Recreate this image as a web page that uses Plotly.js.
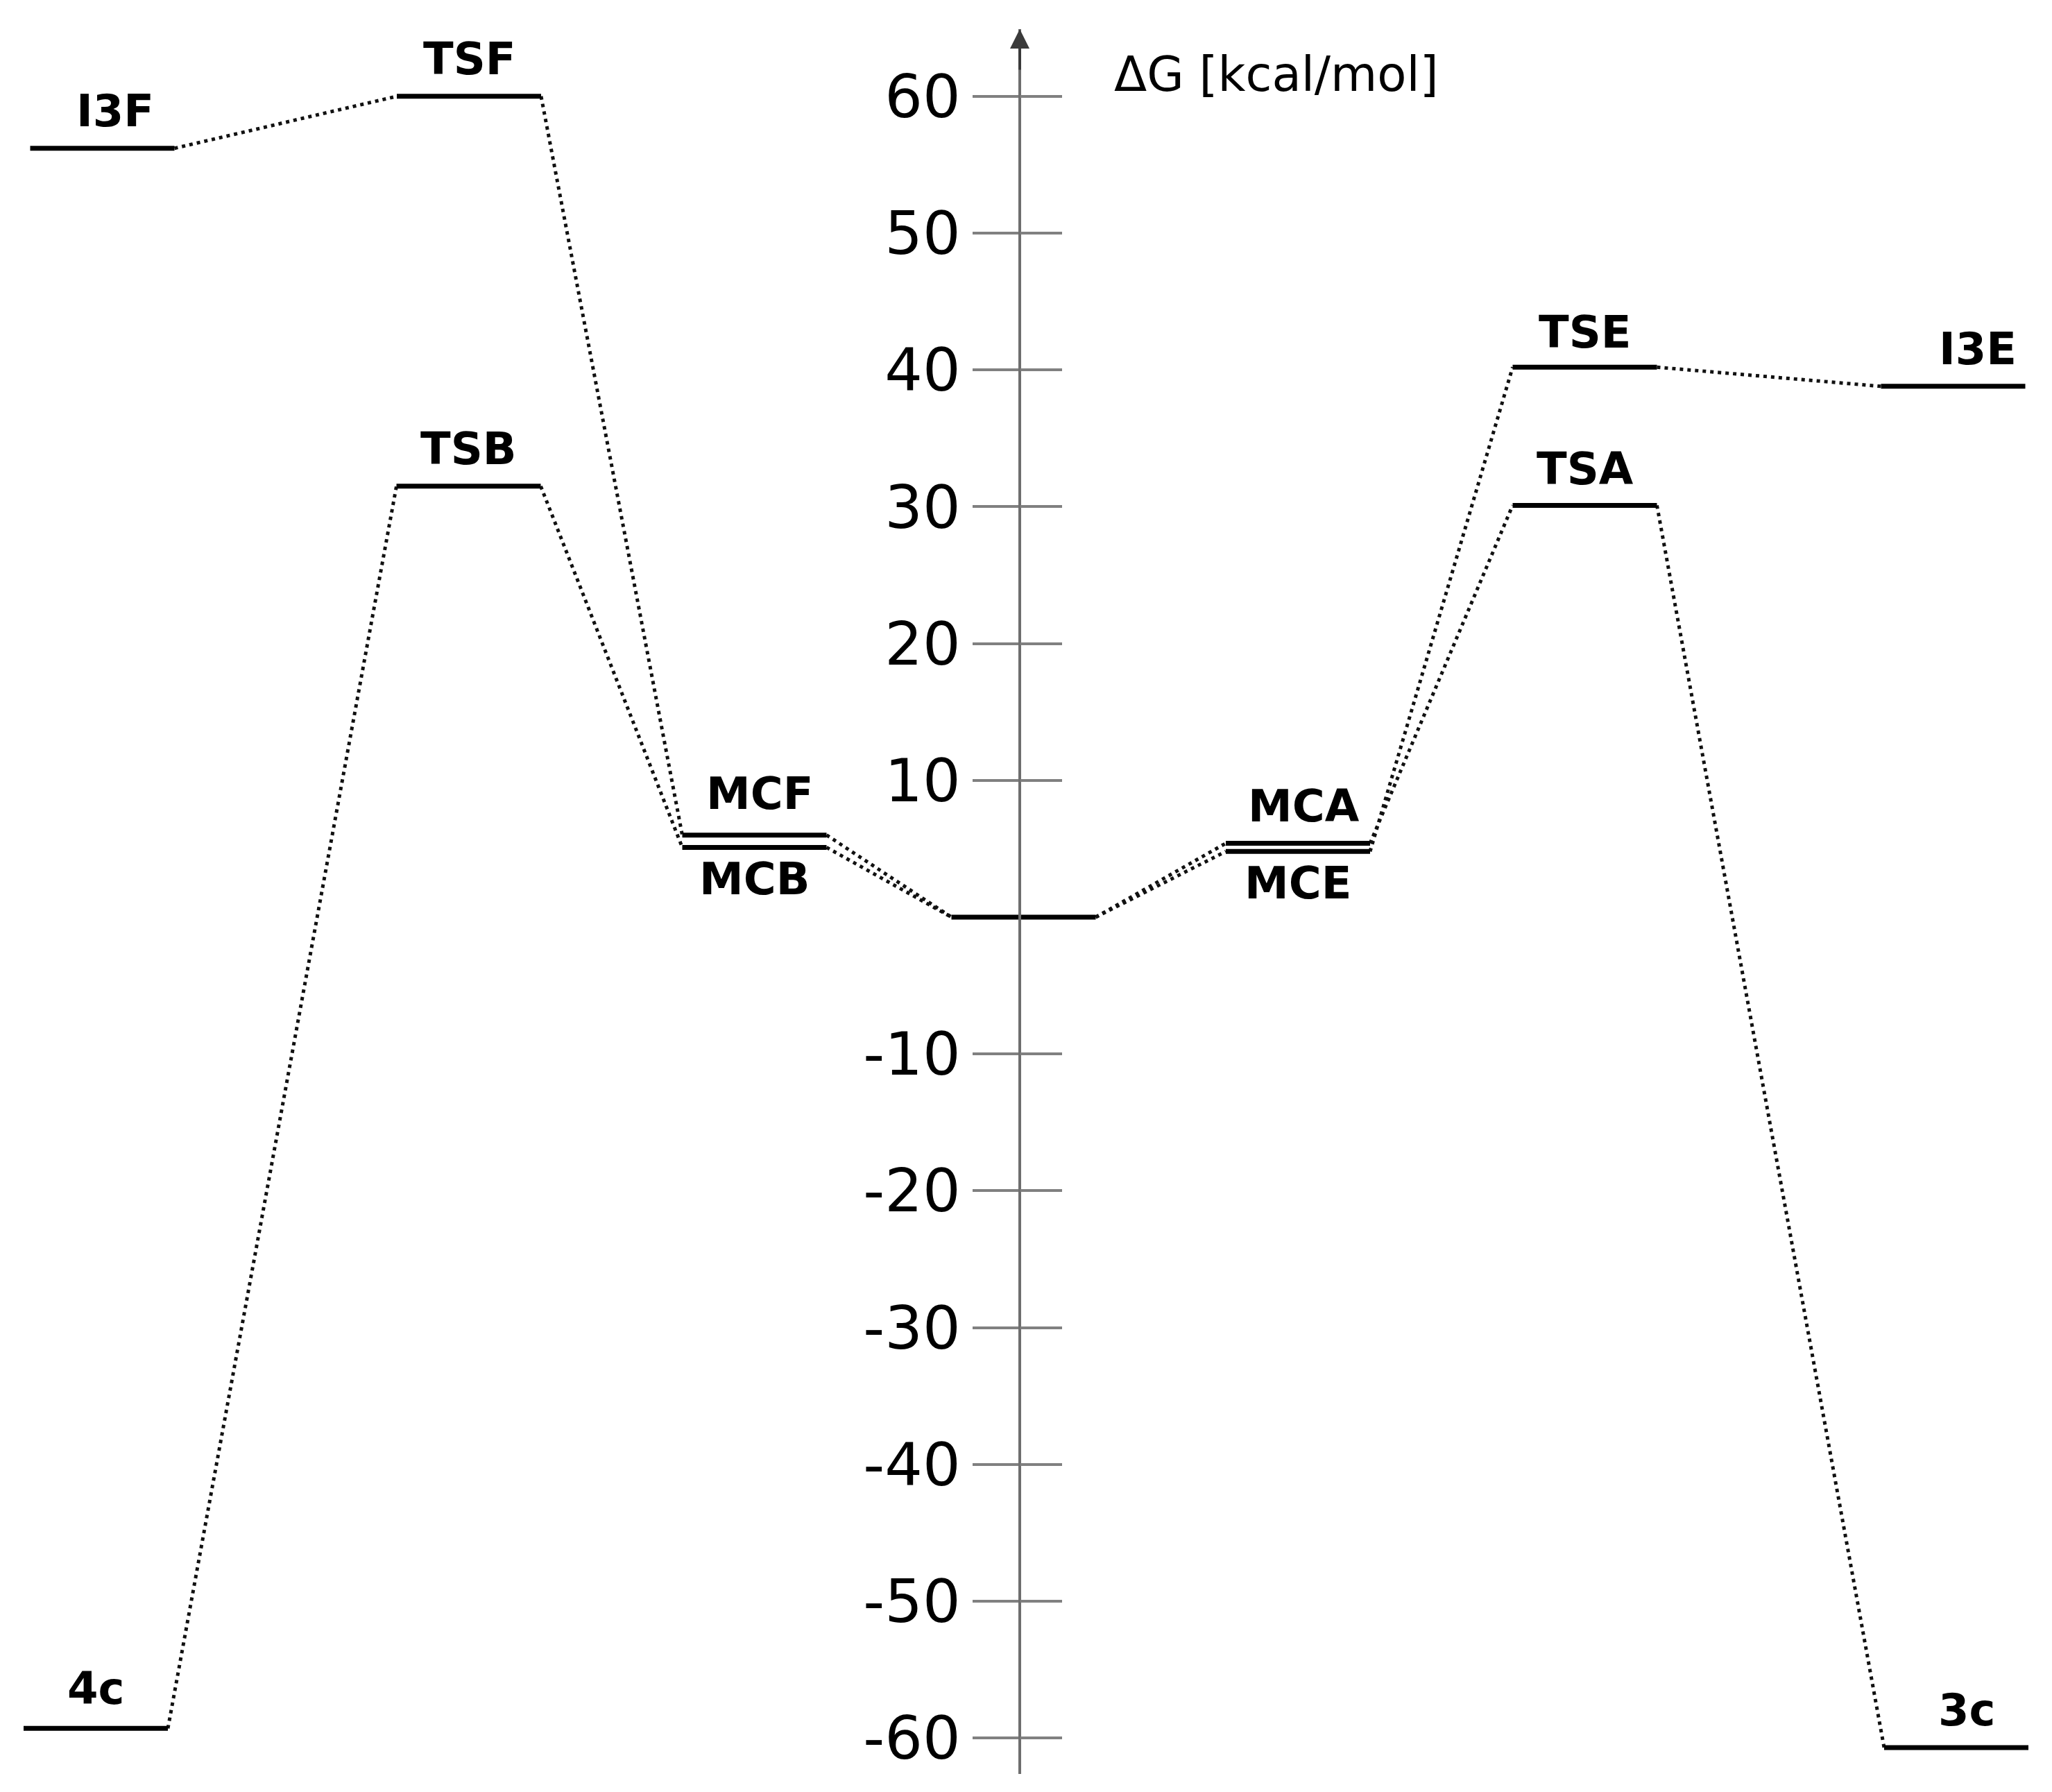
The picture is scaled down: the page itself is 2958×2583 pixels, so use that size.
<!DOCTYPE html>
<html>
<head>
<meta charset="utf-8">
<script src="https://cdn.plot.ly/plotly-3.0.1.min.js"></script>
<style>
  html, body { margin: 0; padding: 0; background: #ffffff; }
  #chart { width: 2958px; height: 2583px; }
</style>
</head>
<body>
<div id="chart"></div>
<script>
// ---------------- data ----------------
const states = ['4c', 'I3F', 'TSB', 'TSF', 'MCB', 'MCF', 'R', 'MCA', 'MCE', 'TSA', 'TSE', 'I3E', '3c'];
const stateLabels = ['4c', 'I3F', 'TSB', 'TSF', 'MCB', 'MCF', '', 'MCA', 'MCE', 'TSA', 'TSE', 'I3E', '3c'];
const reactionCoord = [1.38, 1.475, 6.755, 6.76, 10.875, 10.875, 14.755, 18.71, 18.71, 22.845, 22.845, 28.155, 28.20];
const energies = [-59.3, 56.2, 31.5, 60.0, 5.1, 6.0, 0.0, 5.4, 4.8, 30.1, 40.2, 38.8, -60.7];
const connections = [
  ['4c', 'TSB'], ['TSB', 'MCB'], ['I3F', 'TSF'], ['TSF', 'MCF'],
  ['MCB', 'R'], ['MCF', 'R'], ['R', 'MCA'], ['R', 'MCE'],
  ['MCA', 'TSA'], ['MCE', 'TSE'], ['TSA', '3c'], ['TSE', 'I3E']
];
const tickValues = [-60, -50, -40, -30, -20, -10, 10, 20, 30, 40, 50, 60];
const tickLabels = ['-60', '-50', '-40', '-30', '-20', '-10', '10', '20', '30', '40', '50', '60'];
const axisTitle = 'ΔG [kcal/mol]';

// ---------------- styling / geometry ----------------
const W = 2958, H = 2583;
const xRange = [0, 29.58];
const yRange = [-62.63, 64.91];
const halfWidth = 1.04;
const axisX = 14.70;
const labelFont = { family: 'DejaVu Sans, Verdana, sans-serif', size: 64, color: '#000000' };
const below = { MCB: true, MCE: true };
const labelShiftX = { I3F: 18, I3E: 35, '3c': 15, MCF: 7, MCA: 8 };
const labelShiftY = { MCF: 60, TSE: 50, TSA: 52, '4c': 57 };

const idx = {};
states.forEach((s, i) => { idx[s] = i; });

// level lines
const lx = [], ly = [];
states.forEach((s, i) => {
  lx.push(reactionCoord[i] - halfWidth, reactionCoord[i] + halfWidth, null);
  ly.push(energies[i], energies[i], null);
});

// connectors
const cx = [], cy = [];
connections.forEach(([a, b]) => {
  const ia = idx[a], ib = idx[b];
  cx.push(reactionCoord[ia] + halfWidth, reactionCoord[ib] - halfWidth, null);
  cy.push(energies[ia], energies[ib], null);
});

const traces = [
  {
    type: 'scatter', mode: 'lines', x: cx, y: cy,
    line: { color: '#111111', width: 5, dash: '5px,6px' },
    hoverinfo: 'skip', showlegend: false
  },
  {
    type: 'scatter', mode: 'lines', x: lx, y: ly,
    line: { color: '#000000', width: 7 },
    hoverinfo: 'skip', showlegend: false
  },
  {
    type: 'scatter', mode: 'lines', x: [null], y: [null], yaxis: 'y2',
    hoverinfo: 'skip', showlegend: false
  }
];

const annotations = [];
states.forEach((s, i) => {
  if (!stateLabels[i]) return;
  annotations.push({
    x: reactionCoord[i], y: energies[i], xref: 'x', yref: 'y',
    text: '<b>' + stateLabels[i] + '</b>', showarrow: false,
    font: labelFont, xanchor: 'center', yanchor: 'middle',
    yshift: below[s] ? -46 : (labelShiftY[s] || 54),
    xshift: labelShiftX[s] || 0
  });
});
// axis title
annotations.push({
  x: 16.04, y: 61.6, xref: 'x', yref: 'y',
  text: axisTitle, showarrow: false, xanchor: 'left', yanchor: 'middle',
  font: { family: 'DejaVu Sans, Verdana, sans-serif', size: 69, color: '#000000' }
});
// arrow head on the energy axis
annotations.push({
  x: axisX, y: yRange[1], xref: 'x', yref: 'y',
  ax: 0, ay: 60, text: '', showarrow: true,
  arrowhead: 2, arrowsize: 1.4, arrowwidth: 4, arrowcolor: '#3a3a3a'
});

const axisPos = (axisX - xRange[0]) / (xRange[1] - xRange[0]);

const layout = {
  width: W, height: H,
  margin: { l: 0, r: 0, t: 42, b: 26, pad: 0 },
  paper_bgcolor: '#ffffff', plot_bgcolor: '#ffffff',
  showlegend: false,
  xaxis: { range: xRange, visible: false, fixedrange: true },
  yaxis: {
    range: yRange, anchor: 'free', position: axisPos, side: 'left',
    showline: true, linecolor: '#6e6e6e', linewidth: 4,
    ticks: 'outside', ticklen: 66, tickwidth: 4, tickcolor: '#808080',
    tickvals: tickValues, ticktext: tickLabels,
    tickfont: { family: 'DejaVu Sans, Verdana, sans-serif', size: 86, color: '#000000' },
    showgrid: false, zeroline: false, fixedrange: true
  },
  yaxis2: {
    range: yRange, anchor: 'free', position: axisPos, side: 'left', overlaying: 'y',
    showline: false, ticks: 'inside', ticklen: 60, tickwidth: 4, tickcolor: '#808080',
    tickvals: tickValues, showticklabels: false,
    showgrid: false, zeroline: false, fixedrange: true
  },
  annotations: annotations
};

Plotly.newPlot('chart', traces, layout, { staticPlot: true, displayModeBar: false });
</script>
</body>
</html>
